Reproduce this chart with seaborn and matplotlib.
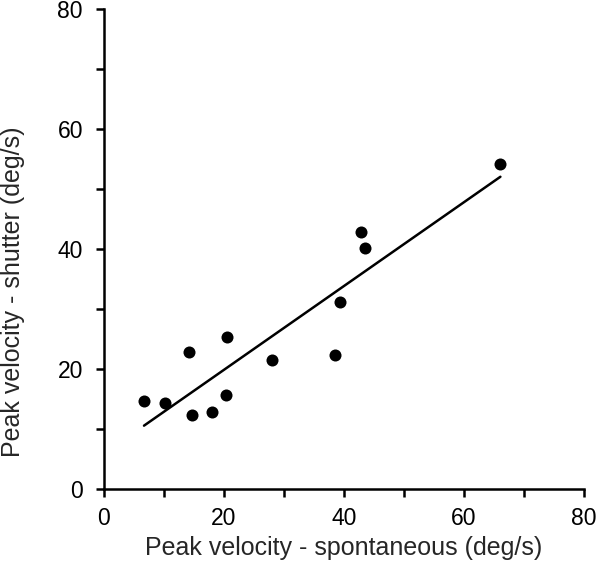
import numpy as np
import pandas as pd
import matplotlib
matplotlib.use("Agg")
import matplotlib.pyplot as plt
from matplotlib.ticker import MultipleLocator
import seaborn as sns

# values
spontaneous = [6.7, 10.2, 14.2, 14.7, 18.0, 20.4, 20.5, 28.1, 38.6, 39.4, 42.8, 43.5, 66.1]
shutter = [14.6, 14.3, 22.9, 12.4, 12.8, 15.6, 25.4, 21.5, 22.3, 31.1, 42.9, 40.1, 54.1]
x_ticks = [0, 20, 40, 60, 80]
y_ticks = [0, 20, 40, 60, 80]

df = pd.DataFrame({"spontaneous": spontaneous, "shutter": shutter})

sns.set_style("ticks")
plt.rcParams["font.family"] = ["Liberation Sans", "DejaVu Sans"]

fig = plt.figure(figsize=(6.0, 5.69), dpi=100)
ax = fig.add_axes([0.173, 0.1406, 0.8, 0.8437])

sns.regplot(data=df, x="spontaneous", y="shutter", ci=None, ax=ax,
            scatter_kws={"s": 75, "color": "black", "alpha": 1, "linewidths": 0},
            line_kws={"color": "black", "linewidth": 1.8})

ax.set_xlim(0, 80)
ax.set_ylim(0, 80)
ax.set_xticks(x_ticks)
ax.set_yticks(y_ticks)
ax.xaxis.set_minor_locator(MultipleLocator(10))
ax.yaxis.set_minor_locator(MultipleLocator(10))
ax.tick_params(which="both", direction="out", length=6, width=1.8, colors="black",
               labelsize=16.5)
ax.tick_params(axis="x", which="major", pad=7)
ax.tick_params(axis="y", which="major", pad=9)

for side in ["top", "right"]:
    ax.spines[side].set_visible(False)
for side in ["left", "bottom"]:
    ax.spines[side].set_linewidth(1.8)
    ax.spines[side].set_color("black")

ax.set_xlabel("Peak velocity - spontaneous (deg/s)", fontsize=18, labelpad=4)
ax.set_ylabel("Peak velocity - shutter (deg/s)", fontsize=18)
ax.yaxis.set_label_coords(-0.165, 0.41)

fig.savefig("out.png", dpi=100)
